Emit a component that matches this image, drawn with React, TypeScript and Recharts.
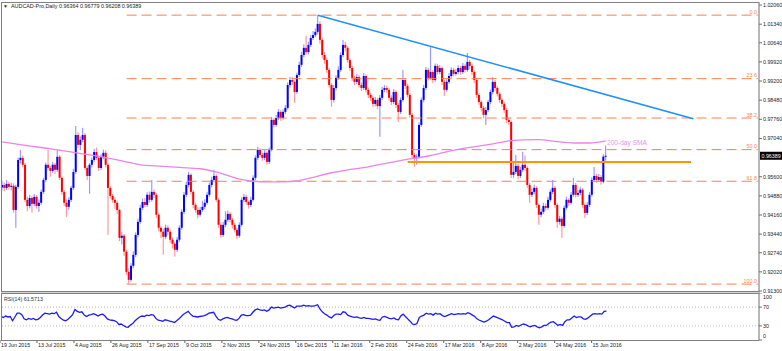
import React from 'react'
import { ComposedChart, LineChart, Bar, Line, XAxis, YAxis, ReferenceLine } from 'recharts'

// daily AUDCAD candles, 19 Jun 2015 .. Jun 2016
const opens = [
  0.9520, 0.9529, 0.9518, 0.9533, 0.9522, 0.9526, 0.9435, 0.9522, 0.9623, 0.9631,
  0.9605, 0.9473, 0.9450, 0.9480, 0.9458, 0.9484, 0.9450, 0.9462, 0.9503, 0.9548,
  0.9605, 0.9593, 0.9582, 0.9605, 0.9586, 0.9635, 0.9556, 0.9503, 0.9462, 0.9447,
  0.9473, 0.9518, 0.9578, 0.9717, 0.9680, 0.9699, 0.9717, 0.9593, 0.9563, 0.9605,
  0.9623, 0.9653, 0.9631, 0.9593, 0.9635, 0.9650, 0.9605, 0.9518, 0.9488, 0.9473,
  0.9462, 0.9435, 0.9330, 0.9338, 0.9278, 0.9202, 0.9172, 0.9225, 0.9266, 0.9341,
  0.9390, 0.9443, 0.9465, 0.9454, 0.9492, 0.9473, 0.9503, 0.9492, 0.9417, 0.9368,
  0.9353, 0.9334, 0.9368, 0.9353, 0.9323, 0.9308, 0.9285, 0.9323, 0.9368, 0.9428,
  0.9492, 0.9529, 0.9567, 0.9503, 0.9454, 0.9435, 0.9417, 0.9435, 0.9447, 0.9462,
  0.9492, 0.9529, 0.9548, 0.9563, 0.9473, 0.9379, 0.9341, 0.9379, 0.9398, 0.9420,
  0.9398, 0.9379, 0.9360, 0.9338, 0.9379, 0.9473, 0.9484, 0.9465, 0.9454, 0.9473,
  0.9556, 0.9631, 0.9661, 0.9642, 0.9631, 0.9650, 0.9616, 0.9661, 0.9774, 0.9755,
  0.9781, 0.9804, 0.9781, 0.9804, 0.9819, 0.9905, 0.9924, 0.9917, 0.9879, 0.9943,
  0.9981, 1.0018, 1.0045, 1.0029, 1.0056, 1.0082, 1.0093, 1.0105, 1.0135, 1.0075,
  1.0018, 0.9999, 0.9962, 0.9905, 0.9849, 0.9894, 0.9932, 0.9962, 1.0018, 1.0056,
  1.0045, 0.9999, 0.9969, 0.9932, 0.9917, 0.9935, 0.9905, 0.9894, 0.9939, 0.9887,
  0.9868, 0.9857, 0.9834, 0.9849, 0.9826, 0.9857, 0.9887, 0.9894, 0.9887, 0.9857,
  0.9841, 0.9879, 0.9830, 0.9804, 0.9849, 0.9924, 0.9902, 0.9868, 0.9793, 0.9642,
  0.9631, 0.9635, 0.9755, 0.9849, 0.9894, 0.9962, 0.9932, 0.9954, 0.9924, 0.9977,
  0.9954, 0.9969, 0.9917, 0.9887, 0.9917, 0.9939, 0.9962, 0.9947, 0.9954, 0.9969,
  0.9954, 0.9977, 0.9962, 0.9992, 0.9977, 0.9954, 0.9924, 0.9868, 0.9841, 0.9819,
  0.9793, 0.9811, 0.9841, 0.9879, 0.9917, 0.9894, 0.9872, 0.9849, 0.9834, 0.9811,
  0.9774, 0.9766, 0.9567, 0.9578, 0.9601, 0.9563, 0.9586, 0.9605, 0.9593, 0.9529,
  0.9492, 0.9503, 0.9518, 0.9454, 0.9417, 0.9428, 0.9450, 0.9443, 0.9473, 0.9503,
  0.9518, 0.9454, 0.9390, 0.9402, 0.9375, 0.9443, 0.9473, 0.9462, 0.9492, 0.9529,
  0.9492, 0.9499, 0.9511, 0.9454, 0.9424, 0.9454, 0.9492, 0.9548, 0.9563, 0.9548,
  0.9559, 0.9541, 0.96364,
]

const highs = [
  0.9545, 0.9538, 0.9548, 0.9541, 0.9537, 0.9535, 0.9530, 0.9632, 0.9661, 0.9640,
  0.9612, 0.9485, 0.9492, 0.9489, 0.9495, 0.9491, 0.9474, 0.9512, 0.9556, 0.9614,
  0.9661, 0.9601, 0.9615, 0.9612, 0.9661, 0.9642, 0.9562, 0.9510, 0.9475, 0.9483,
  0.9526, 0.9590, 0.9751, 0.9728, 0.9712, 0.9744, 0.9725, 0.9601, 0.9612, 0.9633,
  0.9665, 0.9670, 0.9640, 0.9645, 0.9662, 0.9660, 0.9611, 0.9525, 0.9495, 0.9483,
  0.9470, 0.9440, 0.9352, 0.9345, 0.9285, 0.9215, 0.9235, 0.9280, 0.9350, 0.9402,
  0.9455, 0.9478, 0.9480, 0.9502, 0.9505, 0.9548, 0.9512, 0.9498, 0.9424, 0.9376,
  0.9365, 0.9380, 0.9377, 0.9360, 0.9332, 0.9316, 0.9333, 0.9377, 0.9438, 0.9502,
  0.9540, 0.9578, 0.9573, 0.9510, 0.9462, 0.9445, 0.9446, 0.9470, 0.9475, 0.9503,
  0.9538, 0.9560, 0.9586, 0.9570, 0.9480, 0.9388, 0.9390, 0.9430, 0.9432, 0.9428,
  0.9405, 0.9386, 0.9368, 0.9388, 0.9482, 0.9495, 0.9492, 0.9470, 0.9485, 0.9565,
  0.9640, 0.9673, 0.9668, 0.9650, 0.9660, 0.9656, 0.9670, 0.9785, 0.9782, 0.9792,
  0.9815, 0.9810, 0.9813, 0.9830, 0.9915, 0.9936, 0.9935, 0.9922, 0.9952, 0.9993,
  1.0030, 1.0058, 1.0090, 1.0068, 1.0094, 1.0108, 1.0118, 1.0168, 1.0145, 1.0082,
  1.0030, 1.0008, 0.9970, 0.9912, 0.9905, 0.9942, 0.9975, 1.0028, 1.0075, 1.0068,
  1.0052, 1.0006, 0.9978, 0.9940, 0.9946, 0.9943, 0.9915, 0.9950, 0.9945, 0.9895,
  0.9876, 0.9865, 0.9860, 0.9857, 0.9868, 0.9898, 0.9905, 0.9903, 0.9894, 0.9866,
  0.9890, 0.9886, 0.9838, 0.9858, 0.9962, 0.9932, 0.9910, 0.9875, 0.9800, 0.9650,
  0.9646, 0.9765, 0.9858, 0.9905, 0.9973, 0.9970, 1.0048, 0.9962, 0.9986, 0.9985,
  0.9980, 0.9975, 0.9924, 0.9926, 0.9950, 0.9972, 0.9970, 0.9965, 0.9980, 0.9977,
  0.9988, 0.9985, 1.0026, 1.0000, 0.9985, 0.9960, 0.9930, 0.9875, 0.9848, 0.9826,
  0.9822, 0.9850, 0.9888, 0.9935, 0.9924, 0.9900, 0.9878, 0.9856, 0.9840, 0.9818,
  0.9782, 0.9772, 0.9615, 0.9642, 0.9610, 0.9598, 0.9654, 0.9640, 0.9600, 0.9536,
  0.9515, 0.9530, 0.9525, 0.9460, 0.9440, 0.9462, 0.9460, 0.9485, 0.9512, 0.9548,
  0.9525, 0.9460, 0.9412, 0.9410, 0.9452, 0.9485, 0.9480, 0.9502, 0.9556, 0.9537,
  0.9510, 0.9522, 0.9518, 0.9460, 0.9465, 0.9502, 0.9558, 0.9597, 0.9572, 0.9570,
  0.9566, 0.9645, 0.96779,
]

const lows = [
  0.9508, 0.9505, 0.9510, 0.9512, 0.9509, 0.9425, 0.9368, 0.9515, 0.9610, 0.9596,
  0.9465, 0.9430, 0.9441, 0.9425, 0.9449, 0.9440, 0.9428, 0.9455, 0.9495, 0.9540,
  0.9584, 0.9560, 0.9575, 0.9570, 0.9578, 0.9548, 0.9492, 0.9450, 0.9409, 0.9436,
  0.9465, 0.9510, 0.9570, 0.9668, 0.9660, 0.9690, 0.9585, 0.9548, 0.9496, 0.9595,
  0.9615, 0.9622, 0.9582, 0.9585, 0.9626, 0.9595, 0.9341, 0.9478, 0.9462, 0.9440,
  0.9420, 0.9318, 0.9305, 0.9262, 0.9190, 0.9157, 0.9165, 0.9215, 0.9258, 0.9332,
  0.9383, 0.9435, 0.9445, 0.9446, 0.9462, 0.9466, 0.9480, 0.9405, 0.9355, 0.9330,
  0.9266, 0.9325, 0.9340, 0.9310, 0.9290, 0.9259, 0.9277, 0.9315, 0.9360, 0.9420,
  0.9484, 0.9520, 0.9494, 0.9442, 0.9425, 0.9403, 0.9410, 0.9428, 0.9438, 0.9455,
  0.9485, 0.9520, 0.9540, 0.9465, 0.9368, 0.9330, 0.9333, 0.9370, 0.9390, 0.9388,
  0.9366, 0.9350, 0.9325, 0.9330, 0.9372, 0.9465, 0.9455, 0.9440, 0.9446, 0.9466,
  0.9548, 0.9623, 0.9633, 0.9620, 0.9622, 0.9605, 0.9608, 0.9655, 0.9745, 0.9748,
  0.9773, 0.9770, 0.9774, 0.9796, 0.9812, 0.9896, 0.9905, 0.9838, 0.9872, 0.9935,
  0.9973, 1.0010, 1.0020, 1.0020, 1.0048, 1.0074, 1.0085, 1.0096, 1.0060, 1.0005,
  0.9985, 0.9950, 0.9895, 0.9823, 0.9840, 0.9885, 0.9925, 0.9955, 1.0010, 1.0032,
  0.9988, 0.9958, 0.9920, 0.9905, 0.9908, 0.9895, 0.9882, 0.9886, 0.9878, 0.9856,
  0.9845, 0.9822, 0.9825, 0.9815, 0.9710, 0.9849, 0.9878, 0.9876, 0.9846, 0.9830,
  0.9833, 0.9818, 0.9766, 0.9796, 0.9842, 0.9890, 0.9858, 0.9782, 0.9630, 0.9597,
  0.9605, 0.9628, 0.9748, 0.9840, 0.9886, 0.9922, 0.9925, 0.9912, 0.9917, 0.9945,
  0.9946, 0.9906, 0.9864, 0.9880, 0.9910, 0.9931, 0.9938, 0.9940, 0.9946, 0.9944,
  0.9947, 0.9952, 0.9955, 0.9966, 0.9942, 0.9912, 0.9856, 0.9830, 0.9806, 0.9780,
  0.9755, 0.9803, 0.9833, 0.9870, 0.9884, 0.9862, 0.9838, 0.9822, 0.9800, 0.9762,
  0.9755, 0.9555, 0.9556, 0.9570, 0.9550, 0.9555, 0.9578, 0.9582, 0.9518, 0.9462,
  0.9484, 0.9495, 0.9442, 0.9379, 0.9408, 0.9420, 0.9432, 0.9436, 0.9466, 0.9495,
  0.9443, 0.9368, 0.9380, 0.9330, 0.9368, 0.9436, 0.9450, 0.9455, 0.9485, 0.9482,
  0.9484, 0.9490, 0.9443, 0.9405, 0.9416, 0.9446, 0.9485, 0.9540, 0.9537, 0.9540,
  0.9530, 0.9535, 0.96208,
]

const closes = [
  0.9529, 0.9518, 0.9533, 0.9522, 0.9526, 0.9435, 0.9522, 0.9623, 0.9631, 0.9605,
  0.9473, 0.9450, 0.9480, 0.9458, 0.9484, 0.9450, 0.9462, 0.9503, 0.9548, 0.9605,
  0.9593, 0.9582, 0.9605, 0.9586, 0.9635, 0.9556, 0.9503, 0.9462, 0.9447, 0.9473,
  0.9518, 0.9578, 0.9717, 0.9680, 0.9699, 0.9717, 0.9593, 0.9563, 0.9605, 0.9623,
  0.9653, 0.9631, 0.9593, 0.9635, 0.9650, 0.9605, 0.9518, 0.9488, 0.9473, 0.9462,
  0.9435, 0.9330, 0.9338, 0.9278, 0.9202, 0.9172, 0.9225, 0.9266, 0.9341, 0.9390,
  0.9443, 0.9465, 0.9454, 0.9492, 0.9473, 0.9503, 0.9492, 0.9417, 0.9368, 0.9353,
  0.9334, 0.9368, 0.9353, 0.9323, 0.9308, 0.9285, 0.9323, 0.9368, 0.9428, 0.9492,
  0.9529, 0.9567, 0.9503, 0.9454, 0.9435, 0.9417, 0.9435, 0.9447, 0.9462, 0.9492,
  0.9529, 0.9548, 0.9563, 0.9473, 0.9379, 0.9341, 0.9379, 0.9398, 0.9420, 0.9398,
  0.9379, 0.9360, 0.9338, 0.9379, 0.9473, 0.9484, 0.9465, 0.9454, 0.9473, 0.9556,
  0.9631, 0.9661, 0.9642, 0.9631, 0.9650, 0.9616, 0.9661, 0.9774, 0.9755, 0.9781,
  0.9804, 0.9781, 0.9804, 0.9819, 0.9905, 0.9924, 0.9917, 0.9879, 0.9943, 0.9981,
  1.0018, 1.0045, 1.0029, 1.0056, 1.0082, 1.0093, 1.0105, 1.0135, 1.0075, 1.0018,
  0.9999, 0.9962, 0.9905, 0.9849, 0.9894, 0.9932, 0.9962, 1.0018, 1.0056, 1.0045,
  0.9999, 0.9969, 0.9932, 0.9917, 0.9935, 0.9905, 0.9894, 0.9939, 0.9887, 0.9868,
  0.9857, 0.9834, 0.9849, 0.9826, 0.9857, 0.9887, 0.9894, 0.9887, 0.9857, 0.9841,
  0.9879, 0.9830, 0.9804, 0.9849, 0.9924, 0.9902, 0.9868, 0.9793, 0.9642, 0.9631,
  0.9635, 0.9755, 0.9849, 0.9894, 0.9962, 0.9932, 0.9954, 0.9924, 0.9977, 0.9954,
  0.9969, 0.9917, 0.9887, 0.9917, 0.9939, 0.9962, 0.9947, 0.9954, 0.9969, 0.9954,
  0.9977, 0.9962, 0.9992, 0.9977, 0.9954, 0.9924, 0.9868, 0.9841, 0.9819, 0.9793,
  0.9811, 0.9841, 0.9879, 0.9917, 0.9894, 0.9872, 0.9849, 0.9834, 0.9811, 0.9774,
  0.9766, 0.9567, 0.9578, 0.9601, 0.9563, 0.9586, 0.9605, 0.9593, 0.9529, 0.9492,
  0.9503, 0.9518, 0.9454, 0.9417, 0.9428, 0.9450, 0.9443, 0.9473, 0.9503, 0.9518,
  0.9454, 0.9390, 0.9402, 0.9375, 0.9443, 0.9473, 0.9462, 0.9492, 0.9529, 0.9492,
  0.9499, 0.9511, 0.9454, 0.9424, 0.9454, 0.9492, 0.9548, 0.9563, 0.9548, 0.9559,
  0.9541, 0.9636, 0.96389,
]

const rsi14 = [
  50, 48, 51, 49, 50, 41, 49, 57, 57, 54,
  45, 43, 46, 44, 46, 43, 44, 48, 53, 57,
  56, 55, 57, 56, 59, 50, 46, 42, 41, 44,
  49, 54, 65, 61, 59, 60, 53, 50, 53, 54,
  56, 54, 51, 54, 55, 51, 45, 43, 42, 41,
  39, 33, 34, 31, 28, 27, 32, 35, 41, 45,
  49, 51, 50, 53, 52, 54, 53, 46, 42, 41,
  40, 43, 42, 40, 39, 37, 41, 45, 50, 55,
  58, 61, 55, 51, 50, 49, 50, 51, 52, 54,
  57, 58, 59, 51, 44, 42, 45, 47, 48, 46,
  45, 43, 42, 46, 53, 54, 52, 52, 53, 59,
  64, 66, 64, 63, 64, 61, 64, 70, 68, 69,
  70, 68, 69, 70, 73, 74, 71, 68, 72, 72,
  72, 74, 72, 73, 72, 72, 73, 75, 66, 60,
  56, 53, 49, 47, 52, 55, 55, 54, 60, 59,
  53, 51, 49, 48, 49, 47, 46, 48, 46, 46,
  45, 44, 45, 43, 42, 49, 50, 48, 46, 45,
  47, 44, 43, 51, 55, 50, 45, 40, 34, 33,
  35, 48, 51, 53, 57, 55, 56, 53, 57, 55,
  56, 52, 50, 52, 54, 56, 54, 55, 56, 55,
  56, 55, 58, 56, 53, 50, 45, 42, 40, 38,
  40, 43, 47, 51, 49, 47, 45, 43, 40, 37,
  37, 27, 28, 31, 29, 32, 34, 33, 30, 28,
  30, 31, 28, 26, 28, 31, 31, 35, 38, 39,
  35, 31, 33, 31, 39, 43, 43, 47, 51, 48,
  49, 49, 45, 44, 47, 51, 55, 56, 55, 56,
  55, 61, 61.5713,
]

// 200-day SMA at these bars
const smaBars = [0, 10, 21, 32, 43, 52, 60, 67, 77, 86, 94, 101, 108, 115, 122, 128, 134, 143, 150, 156, 163, 170, 177, 185, 192, 199, 206, 213, 220, 226, 233, 240, 248, 255, 262]
const smaValues = [
  0.9691, 0.9678, 0.9665, 0.9650, 0.9635, 0.9620, 0.9605, 0.9601, 0.9595, 0.9590,
  0.9575, 0.9556, 0.9544, 0.9541, 0.9541, 0.9544, 0.9556, 0.9575, 0.9586, 0.9593,
  0.9605, 0.9616, 0.9627, 0.9638, 0.9652, 0.9665, 0.9674, 0.9684, 0.9695, 0.9699,
  0.9700, 0.9693, 0.9687, 0.9687, 0.9695,
]

const dateTickBars = [0, 16, 32, 48, 64, 80, 96, 112, 128, 144, 160, 176, 192, 208, 224, 240, 256]
const dateTicks = [
  '19 Jun 2015', '13 Jul 2015', '4 Aug 2015', '26 Aug 2015', '17 Sep 2015', '9 Oct 2015',
  '2 Nov 2015', '24 Nov 2015', '16 Dec 2015', '11 Jan 2016', '2 Feb 2016', '24 Feb 2016',
  '17 Mar 2016', '8 Apr 2016', '2 May 2016', '24 May 2016', '15 Jun 2016',
]
const priceTicks = [1.0206, 1.0134, 1.0064, 0.9992, 0.992, 0.9848, 0.9776, 0.9704, 0.956, 0.9488, 0.9416, 0.9344, 0.9274, 0.9202, 0.913]
const fibLevels = [1.0168, 0.9929, 0.9781, 0.9662, 0.9543, 0.9156]
const fibNames = ['0.0', '23.6', '38.2', '50.0', '61.8', '100.0']
const rsiTicks = [0, 30, 70, 100]

const SLOTS = 329
const FONT = 'Liberation Sans, Arial, sans-serif'

const rows = Array.from({ length: SLOTS }, (_, i) => {
  const k = smaBars.indexOf(i)
  const has = i < closes.length
  return {
    i,
    range: has ? [lows[i], highs[i]] : undefined,
    o: has ? opens[i] : undefined,
    h: has ? highs[i] : undefined,
    l: has ? lows[i] : undefined,
    c: has ? closes[i] : undefined,
    sma: k >= 0 ? smaValues[k] : null,
    rsi: has ? rsi14[i] : null,
  }
})

function Candle(props: any) {
  const { x, y, width, height, payload } = props
  if (!payload || payload.c == null || height == null) return null
  const { o, h, l, c } = payload
  const top0 = Math.min(y, y + height)
  const hgt = Math.abs(height)
  const span = h - l || 1e-9
  const py = (v: number) => top0 + ((h - v) / span) * hgt
  const color = c >= o ? '#0000ff' : '#ff0000'
  const cx = x + width / 2
  const bt = py(Math.max(o, c))
  const bb = py(Math.min(o, c))
  return (
    <g>
      <rect x={cx - 0.6} y={top0} width={1.2} height={Math.max(hgt, 1)} fill={color} fillOpacity={0.4} />
      <rect x={cx - 1} y={bt} width={2} height={Math.max(bb - bt, 1)} fill={color} />
    </g>
  )
}

function FibLabel(props: any) {
  const vb = props.viewBox || {}
  return (
    <text x={vb.x + vb.width - 1} y={vb.y - 1.2} textAnchor="end" fontSize={5.3} fontFamily={FONT} fill="#ff7f50">
      {props.name}
    </text>
  )
}

function PriceBox(props: any) {
  const vb = props.viewBox || {}
  const x = vb.x + vb.width + 1
  return (
    <g>
      <rect x={x} y={vb.y - 4} width={22} height={8} fill="#000" />
      <text x={x + 1.5} y={vb.y + 2} fontSize={5.3} fontFamily={FONT} fill="#fff">0.96389</text>
    </g>
  )
}

function DateTick(props: any) {
  const { x, payload } = props
  const k = dateTickBars.indexOf(payload.value)
  if (k < 0) return null
  return (
    <g>
      <line x1={x - 1} x2={x - 1} y1={47} y2={50} stroke="#606060" />
      <text x={x} y={53.5} fontSize={5.3} fontFamily={FONT} fill="#222">{dateTicks[k]}</text>
    </g>
  )
}

function RsiTick(props: any) {
  const { x, y, payload } = props
  const dy = payload.value === 100 ? 4 : payload.value === 0 ? -3.5 : 0
  return (
    <text x={x} y={y + dy} dy="0.355em" fontSize={5.3} fontFamily={FONT} fill="#222">
      {payload.value}
    </text>
  )
}

export default function App() {
  return (
    <div style={{ position: 'absolute', left: 0, top: 0, width: 782, height: 351, background: '#fff', overflow: 'hidden' }}>
      <div style={{ position: 'absolute', left: 0, top: 0 }}>
        <ComposedChart width={782} height={293} data={rows} margin={{ top: 2, right: 0, bottom: 0, left: 1 }}>
          <XAxis dataKey="i" type="category" hide />
          <YAxis
            orientation="right"
            type="number"
            width={23}
            domain={[0.91225, 1.02175]}
            allowDataOverflow
            ticks={priceTicks}
            interval={0}
            tickFormatter={(v: number) => v.toFixed(5)}
            tick={{ fontSize: 5.3, fill: '#222', fontFamily: FONT }}
            tickSize={3}
            tickMargin={1}
            axisLine={{ stroke: '#707070' }}
            tickLine={{ stroke: '#707070' }}
          />
          {fibLevels.map((lv, k) => (
            <ReferenceLine
              key={lv}
              segment={[{ x: 54, y: lv }, { x: 328, y: lv }]}
              stroke="#ff7f50"
              strokeDasharray="10 5"
              label={<FibLabel name={fibNames[k]} />}
            />
          ))}
          <ReferenceLine segment={[{ x: 176, y: 0.9615 }, { x: 299, y: 0.9615 }]} stroke="#ff9500" strokeWidth={2} />
          <ReferenceLine y={0.96389} stroke="none" label={<PriceBox />} />
          <Line dataKey="sma" type="monotone" connectNulls stroke="#ea84ea" strokeWidth={1.3} dot={false} isAnimationActive={false} />
          <Bar dataKey="range" barSize={2} shape={<Candle />} isAnimationActive={false} />
          <ReferenceLine segment={[{ x: 137, y: 1.0168 }, { x: 300, y: 0.9778 }]} stroke="#1e90ff" strokeWidth={1.5} />
        </ComposedChart>
      </div>
      <div style={{ position: 'absolute', left: 0, top: 293 }}>
        <LineChart width={782} height={58} data={rows} margin={{ top: 0, right: 0, bottom: 0, left: 1 }}>
          <XAxis
            dataKey="i"
            type="category"
            ticks={dateTickBars}
            interval={0}
            height={11}
            axisLine={false}
            tickLine={false}
            tick={<DateTick />}
          />
          <YAxis
            orientation="right"
            type="number"
            width={23}
            domain={[0, 100]}
            ticks={rsiTicks}
            interval={0}
            tick={<RsiTick />}
            tickSize={3}
            tickMargin={1}
            axisLine={{ stroke: '#707070' }}
            tickLine={{ stroke: '#707070' }}
          />
          <ReferenceLine y={70} stroke="#b8b8b8" strokeDasharray="1 2" />
          <ReferenceLine y={30} stroke="#b8b8b8" strokeDasharray="1 2" />
          <Line dataKey="rsi" type="linear" stroke="#1c1cff" strokeWidth={1.3} dot={false} isAnimationActive={false} />
        </LineChart>
      </div>
      <svg width={782} height={351} style={{ position: 'absolute', left: 0, top: 0, pointerEvents: 'none' }}>
        <line x1={1.5} x2={1.5} y1={2} y2={341} stroke="#808080" />
        <line x1={1} x2={759} y1={2.5} y2={2.5} stroke="#808080" />
        <rect x={1} y={291} width={758} height={3} fill="#d4d4d4" />
        <line x1={1} x2={759} y1={291.5} y2={291.5} stroke="#808080" />
        <line x1={1} x2={759} y1={293.5} y2={293.5} stroke="#808080" />
        <line x1={1} x2={759} y1={340.5} y2={340.5} stroke="#808080" />
        <text x={3} y={7.5} fontSize={5} fontFamily={FONT} fill="#333">▼</text>
        <text x={11} y={7.5} fontSize={5.4} fontFamily={FONT} fill="#222">
          AUDCAD-Pro,Daily  0.96364 0.96779 0.96208 0.96389
        </text>
        <text x={607} y={145} fontSize={6.6} fontFamily={FONT} fill="#e694e6">200-day SMA</text>
        <text x={4} y={300.5} fontSize={5.3} fontFamily={FONT} fill="#333">RSI(14) 61.5713</text>
      </svg>
    </div>
  )
}
